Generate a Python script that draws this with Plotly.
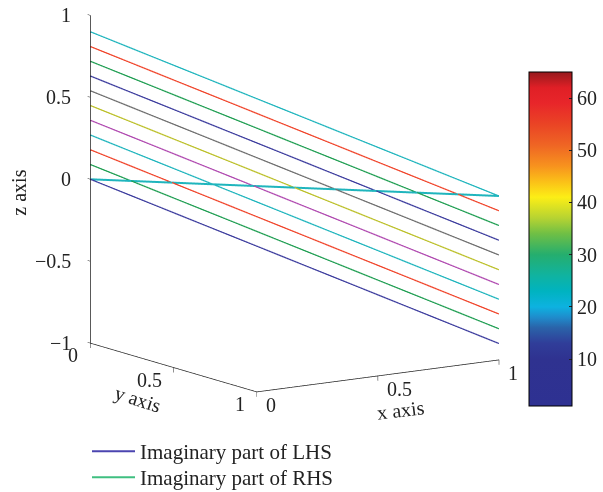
import plotly.graph_objects as go

# ---- data ----
path_x = [0, 1]
path_y = [0, 1]
lhs_start = [0.0, 0.09, 0.18, 0.27, 0.36, 0.45, 0.54, 0.63, 0.72, 0.81, 0.90]
lhs_end = [-0.90, -0.81, -0.72, -0.63, -0.54, -0.45, -0.36, -0.27, -0.18, -0.09, 0.0]
rhs_start = [0.0] * 11
rhs_end = [0.0] * 11
z_ticks = [-1, -0.5, 0, 0.5, 1]
z_ticktext = ["\u22121", "\u22120.5", "0", "0.5", "1"]
xy_ticks = [0, 0.5, 1]
xy_ticktext = ["0", "0.5", "1"]
cbar_min, cbar_max = 1, 65
cbar_ticks = [10, 20, 30, 40, 50, 60]

line_colors = ["#3d3d9e", "#1f9e52", "#f0452b", "#1fb5bd", "#b04ab0",
               "#bcc02a", "#6e6e6e"]
legend_colors = ["#4b45b0", "#3fbf80"]

jet_like = [
    (1, "#2e3192"), (10, "#2f3290"), (13, "#303d99"), (16, "#2a63a9"),
    (18, "#1f8ccc"), (20, "#0db2e0"), (23, "#00b3c0"), (26, "#10b3a0"),
    (30, "#25ae6e"), (34, "#6fbf45"), (37, "#b6d332"), (41, "#fcee16"),
    (44, "#fbc018"), (47, "#f7921e"), (51, "#ef6524"), (55, "#ea4425"),
    (59, "#e8262a"), (62, "#e01f26"), (65, "#961a1d"),
]
colorscale = [[(v - cbar_min) / (cbar_max - cbar_min), c] for v, c in jet_like]

FONT = "Liberation Serif"
FS = 20
TXT = "#222"

fig = go.Figure()

for i, (z0, z1) in enumerate(zip(lhs_start, lhs_end)):
    fig.add_trace(go.Scatter3d(
        x=path_x, y=path_y, z=[z0, z1], mode="lines",
        line=dict(color=line_colors[i % len(line_colors)], width=2.5),
        showlegend=False, hoverinfo="skip"))

for i, (z0, z1) in enumerate(zip(rhs_start, rhs_end)):
    fig.add_trace(go.Scatter3d(
        x=path_x, y=path_y, z=[z0, z1], mode="lines",
        line=dict(color=line_colors[i % len(line_colors)], width=4),
        showlegend=False, hoverinfo="skip"))

# legend entries
fig.add_trace(go.Scatter3d(x=[None], y=[None], z=[None], mode="lines",
                           line=dict(color=legend_colors[0], width=2),
                           name="Imaginary part of LHS", legend="legend"))
fig.add_trace(go.Scatter3d(x=[None], y=[None], z=[None], mode="lines",
                           line=dict(color=legend_colors[1], width=2),
                           name="Imaginary part of RHS", legend="legend2"))

# colorbar carrier
fig.add_trace(go.Scatter3d(
    x=[None], y=[None], z=[None], mode="markers", showlegend=False,
    marker=dict(color=[cbar_min, cbar_max], cmin=cbar_min, cmax=cbar_max,
                colorscale=colorscale, showscale=True,
                colorbar=dict(x=529 / 603, xanchor="left", xpad=0, ypad=0,
                              y=(492 - 72) / 492, yanchor="top",
                              len=334, lenmode="pixels",
                              thickness=43, outlinecolor="black", outlinewidth=1,
                              tickvals=cbar_ticks, ticks="inside", ticklen=3,
                              tickcolor=TXT,
                              tickfont=dict(family=FONT, size=FS, color=TXT)))))

axis_common = dict(showbackground=False, showgrid=False, zeroline=False,
                   showline=True, linecolor=TXT, linewidth=1.5,
                   ticks="outside", ticklen=5, tickcolor=TXT,
                   showspikes=False, showticklabels=False,
                   title=dict(text=""))

direction = (0.547, -0.814, -0.197)
r = 1.649
center = dict(x=-0.00055, y=0.05175, z=-0.2155)
eye = dict(x=center["x"] + r * direction[0],
           y=center["y"] + r * direction[1],
           z=center["z"] + r * direction[2])

ann_font = dict(family=FONT, size=FS, color=TXT)
scene_annotations = []
for v, t in zip(z_ticks, z_ticktext):
    scene_annotations.append(dict(x=0, y=0, z=v, text=t, showarrow=False,
                                  xanchor="right", xshift=-17, font=ann_font))
for v, t in zip(xy_ticks, xy_ticktext):
    scene_annotations.append(dict(x=0, y=v, z=-1, text=t, showarrow=False,
                                  xanchor="right", xshift=-10, yshift=-12,
                                  font=ann_font))
for v, t in zip(xy_ticks, xy_ticktext):
    scene_annotations.append(dict(x=v, y=1, z=-1, text=t, showarrow=False,
                                  xanchor="left", xshift=7, yshift=-13,
                                  font=ann_font))
scene_annotations += [
    dict(x=0, y=0, z=0, text="z axis", textangle=-90, showarrow=False,
         xshift=-71, yshift=-13, font=ann_font),
    dict(x=0, y=0.5, z=-1, text="y axis", textangle=18, showarrow=False,
         xshift=-36, yshift=-32, font=ann_font),
    dict(x=0.5, y=1, z=-1, text="x axis", textangle=-7, showarrow=False,
         xshift=23, yshift=-34, font=ann_font),
]

s = 1.213
fig.update_layout(
    width=603, height=492,
    margin=dict(l=0, r=0, t=0, b=0, autoexpand=False),
    paper_bgcolor="white",
    font=dict(family=FONT, size=FS, color=TXT),
    scene=dict(
        domain=dict(x=[0, 1], y=[11 / 492, 1]),
        xaxis=dict(axis_common, range=[0, 1], tickvals=xy_ticks),
        yaxis=dict(axis_common, range=[0, 1], tickvals=xy_ticks),
        zaxis=dict(axis_common, range=[-1, 1], tickvals=z_ticks),
        aspectmode="manual",
        aspectratio=dict(x=1.0 * s, y=1.023 * s, z=1.146 * s),
        camera=dict(projection=dict(type="orthographic"), eye=eye,
                    up=dict(x=0, y=0, z=1), center=center),
        bgcolor="white",
        annotations=scene_annotations,
    ),
    legend=dict(x=87 / 603, xanchor="left", y=(492 - 431) / 492, yanchor="top",
                font=dict(family=FONT, size=21, color=TXT),
                bgcolor="rgba(0,0,0,0)", itemwidth=43),
    legend2=dict(x=87 / 603, xanchor="left", y=(492 - 457) / 492, yanchor="top",
                 font=dict(family=FONT, size=21, color=TXT),
                 bgcolor="rgba(0,0,0,0)", itemwidth=43),
)

fig.write_html("out.html", config={"displayModeBar": False},
               post_script="document.body.style.margin='0px';")
